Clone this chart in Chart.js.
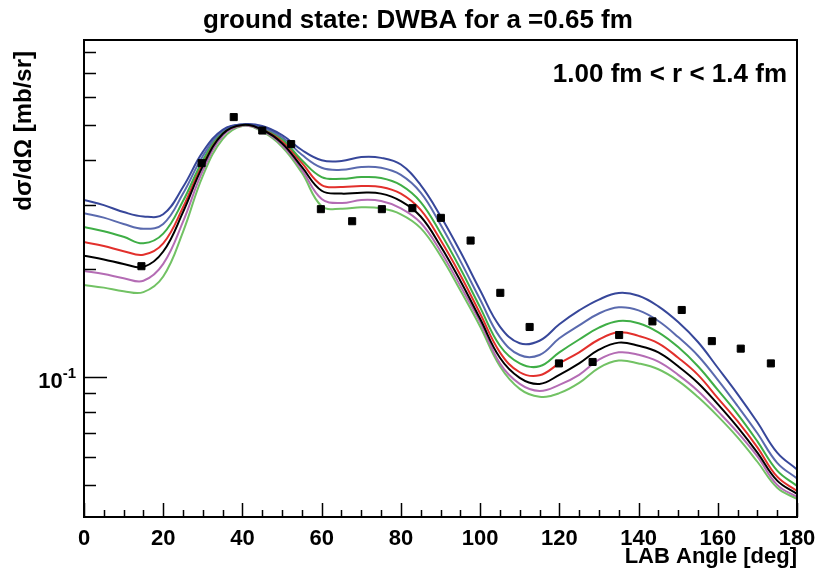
<!DOCTYPE html>
<html>
<head>
<meta charset="utf-8">
<title>ground state: DWBA for a =0.65 fm</title>
<script src="https://cdn.jsdelivr.net/npm/chart.js@4/dist/chart.umd.min.js"></script>
<style>
  html, body { margin: 0; padding: 0; background: #fff; }
  canvas { display: block; }
</style>
</head>
<body>
<canvas id="chart" width="817" height="568"></canvas>
<script>
// LAB angle grid of the DWBA curves (deg)
const angles = [0, 5, 10, 15, 20, 25, 30, 35, 40, 45, 50, 55, 60, 65, 70, 75, 80, 85, 90,
  95, 100, 105, 110, 115, 120, 125, 130, 135, 140, 145, 150, 155, 160, 165, 170, 175, 180];

// dsigma/dOmega [mb/sr], one curve per radius, top to bottom
const curveBlue = [0.310, 0.300, 0.287, 0.279, 0.283, 0.337, 0.422, 0.486, 0.503, 0.498, 0.470, 0.427, 0.400,
  0.398, 0.408, 0.406, 0.389, 0.341, 0.280, 0.223, 0.174, 0.138, 0.124, 0.126, 0.140, 0.153, 0.164,
  0.171, 0.168, 0.157, 0.142, 0.125, 0.106, 0.0896, 0.0748, 0.0616, 0.0553];
const curveSlate = [0.285, 0.277, 0.266, 0.258, 0.266, 0.323, 0.411, 0.483, 0.503, 0.494, 0.464, 0.414, 0.381,
  0.376, 0.383, 0.381, 0.364, 0.325, 0.265, 0.210, 0.164, 0.129, 0.115, 0.115, 0.128, 0.139, 0.150,
  0.156, 0.153, 0.143, 0.129, 0.1145, 0.0981, 0.0830, 0.0697, 0.0577, 0.0522];
const curveGreen = [0.261, 0.254, 0.245, 0.235, 0.250, 0.308, 0.400, 0.480, 0.502, 0.492, 0.458, 0.400, 0.359,
  0.355, 0.359, 0.357, 0.341, 0.306, 0.251, 0.200, 0.156, 0.122, 0.109, 0.107, 0.117, 0.127, 0.137,
  0.143, 0.141, 0.133, 0.121, 0.107, 0.0920, 0.0788, 0.0662, 0.0549, 0.0498];
const curveRed = [0.237, 0.231, 0.2235, 0.2185, 0.235, 0.296, 0.393, 0.476, 0.501, 0.489, 0.452, 0.393, 0.341,
  0.337, 0.339, 0.337, 0.323, 0.291, 0.240, 0.192, 0.150, 0.117, 0.103, 0.101, 0.109, 0.117, 0.127,
  0.133, 0.130, 0.124, 0.113, 0.1013, 0.0873, 0.0753, 0.0637, 0.0528, 0.0482];
const curveBlack = [0.217, 0.212, 0.206, 0.202, 0.223, 0.287, 0.385, 0.473, 0.501, 0.486, 0.446, 0.383, 0.329,
  0.323, 0.325, 0.323, 0.308, 0.279, 0.231, 0.185, 0.145, 0.113, 0.0994, 0.0956, 0.1013, 0.109, 0.119,
  0.1245, 0.122, 0.117, 0.107, 0.0962, 0.0840, 0.0725, 0.0616, 0.0515, 0.0473];
const curvePink = [0.197, 0.193, 0.188, 0.185, 0.206, 0.270, 0.374, 0.467, 0.499, 0.483, 0.441, 0.376, 0.312,
  0.304, 0.310, 0.308, 0.294, 0.268, 0.2235, 0.179, 0.142, 0.109, 0.0956, 0.0914, 0.0950, 0.1013, 0.1116,
  0.117, 0.1152, 0.1102, 0.1013, 0.0914, 0.0803, 0.0701, 0.0601, 0.0501, 0.0464];
const curveLightGreen = [0.180, 0.177, 0.173, 0.172, 0.190, 0.253, 0.362, 0.458, 0.498, 0.480, 0.436, 0.369, 0.298,
  0.293, 0.296, 0.294, 0.283, 0.259, 0.217, 0.174, 0.138, 0.107, 0.0926, 0.0881, 0.0901, 0.0962, 0.106,
  0.111, 0.109, 0.105, 0.0975, 0.0879, 0.0778, 0.0679, 0.0581, 0.0492, 0.0458];

// measured cross sections
const dataAngles = [14.5, 29.7, 37.8, 45.0, 52.3, 59.8, 67.7, 75.2, 82.9, 90.1, 97.6, 105.1, 112.5,
  119.9, 128.4, 135.1, 143.5, 150.9, 158.5, 165.8, 173.4];
const dataSigma = [0.203, 0.3925, 0.527, 0.4836, 0.4434, 0.2924, 0.2707, 0.2924, 0.2943, 0.2766, 0.2392, 0.1712, 0.1376,
  0.109, 0.110, 0.1307, 0.1426, 0.1534, 0.1257, 0.1198, 0.109];

// axis ticks
const xTickLabels = [0, 20, 40, 60, 80, 100, 120, 140, 160, 180];
const xMinorTicks = [5, 10, 15, 25, 30, 35, 45, 50, 55, 65, 70, 75, 85, 90, 95, 105, 110, 115,
  125, 130, 135, 145, 150, 155, 165, 170, 175];
const yMajorTicks = [0.1];
const yMinorTicks = [0.05, 0.06, 0.07, 0.08, 0.09, 0.2, 0.3, 0.4, 0.5, 0.6, 0.7, 0.8];

const FONT = '"Liberation Sans", Arial, Helvetica, sans-serif';

function toPoints(xs, ys) {
  return xs.map((x, i) => ({ x: x, y: ys[i] }));
}

function curve(label, values, color) {
  return {
    label: label,
    data: toPoints(angles, values),
    borderColor: color,
    borderWidth: 2,
    pointRadius: 0,
    fill: false,
    tension: 0.4,
    order: 2,
  };
}

// ROOT style frame: inward ticks on left and bottom, labels and titles
const rootFrame = {
  id: "rootFrame",
  afterDraw(chart) {
    const { ctx, chartArea: a } = chart;
    const x = chart.scales.x;
    const y = chart.scales.y;
    ctx.save();
    ctx.strokeStyle = "#000";
    ctx.fillStyle = "#000";

    ctx.lineWidth = 1.5;
    ctx.beginPath();
    xTickLabels.forEach((v) => {
      const px = Math.round(x.getPixelForValue(v)) + 0.5;
      ctx.moveTo(px, a.bottom);
      ctx.lineTo(px, a.bottom - 14);
    });
    xMinorTicks.forEach((v) => {
      const px = Math.round(x.getPixelForValue(v)) + 0.5;
      ctx.moveTo(px, a.bottom);
      ctx.lineTo(px, a.bottom - 7);
    });
    yMajorTicks.forEach((v) => {
      const py = Math.round(y.getPixelForValue(v)) + 0.5;
      ctx.moveTo(a.left, py);
      ctx.lineTo(a.left + 23, py);
    });
    yMinorTicks.forEach((v) => {
      const py = Math.round(y.getPixelForValue(v)) + 0.5;
      ctx.moveTo(a.left, py);
      ctx.lineTo(a.left + 12, py);
    });
    ctx.stroke();

    ctx.lineWidth = 2;
    ctx.strokeRect(a.left, a.top, a.right - a.left, a.bottom - a.top);

    ctx.font = "bold 22px " + FONT;
    ctx.textAlign = "center";
    ctx.textBaseline = "alphabetic";
    xTickLabels.forEach((v) => {
      ctx.fillText(String(v), x.getPixelForValue(v), a.bottom + 28);
    });

    yMajorTicks.forEach((v) => {
      const py = y.getPixelForValue(v);
      ctx.textAlign = "right";
      ctx.font = "bold 15px " + FONT;
      const supW = ctx.measureText("-1").width;
      ctx.fillText("-1", a.left - 8, py + 1);
      ctx.font = "bold 22px " + FONT;
      ctx.fillText("10", a.left - 8 - supW, py + 11);
    });

    ctx.textAlign = "right";
    ctx.font = "bold 22px " + FONT;
    ctx.fillText("LAB Angle [deg]", a.right, a.bottom + 46);

    ctx.save();
    ctx.translate(31, a.top + 11);
    ctx.rotate(-Math.PI / 2);
    ctx.font = "bold 24px " + FONT;
    ctx.textAlign = "right";
    ctx.fillText("d\u03c3/d\u03a9 [mb/sr]", 0, 0);
    ctx.restore();

    ctx.font = "bold 26px " + FONT;
    ctx.textAlign = "center";
    ctx.fillText("ground state: DWBA for a =0.65 fm", 418, 28);

    ctx.textAlign = "right";
    ctx.fillText("1.00 fm < r < 1.4 fm", a.right - 10, a.top + 42);
    ctx.restore();
  },
};

const ctx = document.getElementById("chart").getContext("2d");
new Chart(ctx, {
  type: "line",
  data: {
    datasets: [
      {
        label: "data",
        data: toPoints(dataAngles, dataSigma),
        showLine: false,
        pointStyle: "rect",
        pointRadius: 5,
        pointBorderWidth: 1,
        pointBackgroundColor: "#000",
        pointBorderColor: "#000",
        order: 0,
      },
      curve("r1", curveBlue, "#37479a"),
      curve("r2", curveSlate, "#5a6aae"),
      curve("r3", curveGreen, "#3fae46"),
      curve("r4", curveRed, "#e2302c"),
      Object.assign(curve("r5", curveBlack, "#000000"), { order: 1 }),
      curve("r6", curvePink, "#b46cb4"),
      curve("r7", curveLightGreen, "#72c264"),
    ],
  },
  options: {
    responsive: false,
    devicePixelRatio: 1,
    animation: false,
    layout: { padding: { left: 84, right: 20, top: 40, bottom: 51 } },
    scales: {
      x: { type: "linear", min: 0, max: 180, display: false },
      y: { type: "logarithmic", min: 0.0408, max: 0.863, display: false },
    },
    plugins: {
      legend: { display: false },
      tooltip: { enabled: false },
      title: { display: false },
    },
  },
  plugins: [rootFrame],
});
</script>
</body>
</html>
